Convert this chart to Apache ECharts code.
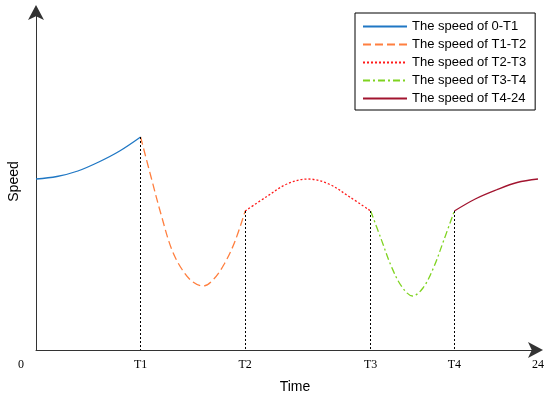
<!DOCTYPE html>
<html>
<head>
<meta charset="utf-8">
<script src="https://cdn.jsdelivr.net/npm/echarts@6/dist/echarts.min.js"></script>
<style>html,body{margin:0;padding:0;background:#fff}#c{width:550px;height:399px}</style>
</head>
<body>
<div id="c"></div>
<script>
// Time break points and tick labels
const tickValues = [0, 5, 10, 16, 20, 24];
const tickLabels = ['0', 'T1', 'T2', 'T3', 'T4', '24'];
const seriesNames = ['The speed of 0-T1', 'The speed of T1-T2', 'The speed of T2-T3', 'The speed of T3-T4', 'The speed of T4-24'];

// Segment 0-T1
const xBlue = [0, 1, 2, 3, 4, 5];
const yBlue = [171, 173.5, 179, 188, 199, 213];
// Segment T1-T2
const xOrange = [5, 5.5, 6, 6.5, 7, 7.5, 8, 8.5, 9, 9.5, 10];
const yOrange = [213, 173, 134, 100, 80, 68, 64, 71, 86, 108, 139];
// Segment T2-T3
const xRed = [10, 11, 12, 13, 14, 15, 16];
const yRed = [139, 153, 166, 171, 166, 153, 139];
// Segment T3-T4
const xGreen = [16, 16.5, 17, 17.5, 18, 18.5, 19, 19.5, 20];
const yGreen = [139, 111, 83, 63, 54, 62, 82, 110, 139];
// Segment T4-24
const xDark = [20, 21, 22, 23, 24];
const yDark = [139, 151, 160, 167.5, 171];

const segX = [xBlue, xOrange, xRed, xGreen, xDark];
const segY = [yBlue, yOrange, yRed, yGreen, yDark];
const colors = ['#1f77c4', '#ff7f3f', '#ff1a1a', '#7fd320', '#a2142f'];
const types = ['solid', [8, 4], [2, 2], [7, 3, 2, 3], 'solid'];

const zip = (xs, ys) => xs.map((x, i) => [x, ys[i]]);

const series = segX.map((xs, i) => ({
  name: seriesNames[i],
  type: 'line',
  data: zip(xs, segY[i]),
  smooth: 0.35,
  symbol: 'none',
  lineStyle: { color: colors[i], width: 1.3, type: types[i] },
  itemStyle: { color: colors[i] }
}));

// vertical dotted lines at T1..T4 (end of first four segments)
const vLines = segX.slice(0, 4).map((xs, i) => {
  const x = xs[xs.length - 1];
  const y = segY[i][segY[i].length - 1];
  return [{ coord: [x, y] }, { coord: [x, 0] }];
});
series.push({
  type: 'line',
  data: [],
  markLine: {
    silent: true,
    symbol: ['none', 'none'],
    label: { show: false },
    lineStyle: { color: '#000', type: [2, 2], width: 1 },
    data: vLines
  }
});

const chart = echarts.init(document.getElementById('c'));
chart.setOption({
  animation: false,
  grid: { left: 36, right: 12, top: 13, bottom: 49, containLabel: false, outerBoundsMode: 'none' },
  legend: {
    data: seriesNames,
    orient: 'vertical',
    left: 355,
    top: 13,
    padding: [7, 9, 5, 7],
    itemWidth: 44,
    itemHeight: 12,
    itemGap: 5,
    borderColor: '#000',
    borderWidth: 1,
    borderRadius: 0,
    itemStyle: { opacity: 0 },
    textStyle: { fontFamily: 'Liberation Sans', fontSize: 13, color: '#000', padding: [0, 0, 0, 0] }
  },
  xAxis: {
    type: 'value',
    min: 0,
    max: 24,
    name: 'Time',
    nameLocation: 'middle',
    nameGap: 30,
    nameTextStyle: { fontFamily: 'Liberation Sans', fontSize: 14, color: '#000', padding: [0, 0, 0, 16] },
    splitLine: { show: false },
    axisTick: { show: false },
    axisLine: { lineStyle: { color: '#333', width: 1 }, symbol: ['none', 'arrow'], symbolSize: [12, 15], symbolOffset: [0, 5] },
    axisLabel: {
      customValues: tickValues,
      margin: 9,
      fontFamily: 'Liberation Serif',
      fontSize: 12,
      color: '#000',
      formatter: v => {
        const i = tickValues.indexOf(v);
        const t = i >= 0 ? tickLabels[i] : '';
        return i === 0 ? '{z|' + t + '}' : t;
      },
      rich: { z: { padding: [0, 30, 0, 0], fontFamily: 'Liberation Serif', fontSize: 12, color: '#000' } }
    }
  },
  yAxis: {
    type: 'value',
    min: 0,
    max: 337,
    name: 'Speed',
    nameLocation: 'middle',
    nameGap: 15,
    nameTextStyle: { fontFamily: 'Liberation Sans', fontSize: 14, color: '#000' },
    splitLine: { show: false },
    axisTick: { show: false },
    axisLabel: { show: false },
    axisLine: { show: true, lineStyle: { color: '#333', width: 1 }, symbol: ['none', 'arrow'], symbolSize: [12, 15], symbolOffset: [0, 8] }
  },
  series: series
});
</script>
</body>
</html>
